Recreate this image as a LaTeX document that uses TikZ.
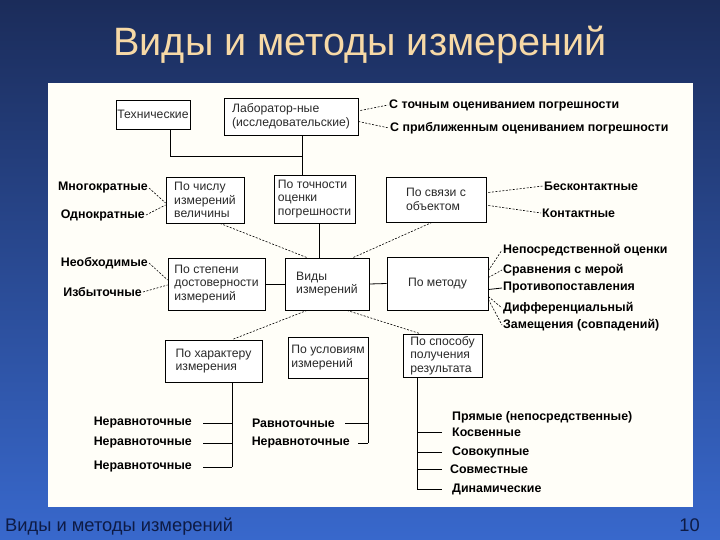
\documentclass[tikz,border=0pt]{standalone}
\usepackage{fontspec}
\setmainfont{Liberation Sans}
\usetikzlibrary{calc}
\definecolor{bgtop}{HTML}{1B2C5A}
\definecolor{bgbot}{HTML}{3868CC}
\definecolor{titlecol}{HTML}{F7D9A6}
\definecolor{footcol}{HTML}{0E1B45}
\definecolor{panel}{HTML}{FFFEF8}
\definecolor{boxtext}{HTML}{2A2A2A}
\begin{document}
\begin{tikzpicture}[x=1pt,y=-1pt,
 box/.style={draw=black, line width=0.8pt, fill=white, align=left, inner sep=0pt, font=\fontsize{12.2}{13.5}\selectfont, text=boxtext},
 lbl/.style={font=\bfseries\fontsize{12.4}{14}\selectfont, inner sep=1pt, text=black},
 dline/.style={line width=0.6pt, dash pattern=on 2pt off 1.5pt},
 sline/.style={line width=0.8pt}]
\useasboundingbox (0,0) rectangle (720,540);
\shade[top color=bgtop, bottom color=bgbot] (0,0) rectangle (720,540);
\fill[panel] (48,83) rectangle (693,507);
% title and footer
\node[anchor=base, text=titlecol, font=\fontsize{39.6}{48}\selectfont, inner sep=0pt] (title) at (360,56) {Виды и методы измерений};
\node[anchor=base west, text=footcol, font=\fontsize{18.3}{20}\selectfont, inner sep=0pt] (foot) at (5,531) {Виды и методы измерений};
\node[anchor=base east, text=footcol, font=\fontsize{18.3}{20}\selectfont, inner sep=0pt] (page) at (700,531) {10};
% boxes
\node[box, minimum width=74, minimum height=29] (tech) at (153,114.5) {Технические};
\node[box, minimum width=134, minimum height=37] (lab) at (291,116.5) {Лаборатор-ные\\(исследовательские)};
\node[box, minimum width=78, minimum height=46] (count) at (205,200) {По числу\\измерений\\величины};
\node[box, minimum width=81, minimum height=48] (acc) at (314.5,199) {По точности\\оценки\\погрешности};
\node[box, minimum width=100, minimum height=45] (obj) at (436,199.5) {По связи с\\объектом};
\node[box, minimum width=97, minimum height=52] (rel) at (216.5,284) {По степени\\достоверности\\измерений};
\node[box, minimum width=84, minimum height=52] (main) at (327,284) {Виды\\измерений};
\node[box, minimum width=101, minimum height=53] (meth) at (437.5,283.5) {По методу};
\node[box, minimum width=97, minimum height=42] (char) at (213.5,361) {По характеру\\измерения};
\node[box, minimum width=80, minimum height=41] (cond) at (328,357.5) {По условиям\\измерений};
\node[box, minimum width=79, minimum height=43] (res) at (442.5,355.5) {По способу\\получения\\результата};
% labels
\node[lbl, anchor=west] (l1) at (388,105) {С точным оцениванием погрешности};
\node[lbl, anchor=west] (l2) at (389,128) {С приближенным оцениванием погрешности};
\node[lbl, anchor=east] (mk) at (149,188) {Многократные};
\node[lbl, anchor=east] (ok) at (146,215) {Однократные};
\node[lbl, anchor=west] (bk) at (543,186) {Бесконтактные};
\node[lbl, anchor=west] (kt) at (541,213) {Контактные};
\node[lbl, anchor=east] (nb) at (149,263) {Необходимые};
\node[lbl, anchor=east] (iz) at (143,292) {Избыточные};
\node[lbl, anchor=west] (m1) at (502,250) {Непосредственной оценки};
\node[lbl, anchor=west] (m2) at (502,270) {Сравнения с мерой};
\node[lbl, anchor=west] (m3) at (502,288) {Противопоставления};
\node[lbl, anchor=west] (m4) at (502,308) {Дифференциальный};
\node[lbl, anchor=west] (m5) at (502,325) {Замещения (совпадений)};
\node[lbl, anchor=east] (c1) at (193,423) {Неравноточные};
\node[lbl, anchor=east] (c2) at (193,443) {Неравноточные};
\node[lbl, anchor=east] (c3) at (193,467) {Неравноточные};
\node[lbl, anchor=east] (u1) at (336,423) {Равноточные};
\node[lbl, anchor=east] (u2) at (351,443) {Неравноточные};
\node[lbl, anchor=west] (r1) at (451,417) {Прямые (непосредственные)};
\node[lbl, anchor=west] (r2) at (451,432) {Косвенные};
\node[lbl, anchor=west] (r3) at (451,452) {Совокупные};
\node[lbl, anchor=west] (r4) at (449,469) {Совместные};
\node[lbl, anchor=west] (r5) at (451,489) {Динамические};
% connectors
\coordinate (tj) at (170,156);
\coordinate (lj) at (302,156);
\draw[sline] (tj |- tech.south) -- (tj) -- (lj);
\draw[sline] (lj |- lab.south) -- (lj |- acc.north);
\draw[dline] ($(lab.east)+(2,-6)$) -- (l1.west);
\draw[dline] ($(lab.east)+(0,5)$) -- (l2.west);
\draw[dline] (mk.east) -- ($(count.west)+(0,3)$);
\draw[dline] (ok.east) -- ($(count.west)+(0,5)$);
\draw[dline] ($(obj.east)+(2,-7)$) -- (bk.west);
\draw[dline] ($(obj.east)+(2,6)$) -- (kt.west);
\draw[dline] (nb.east) -- ($(rel.west)+(0,-4)$);
\draw[dline] (iz.east) -- ($(rel.west)+(0,1)$);
\draw[dline] ($(count.south)+(15,0)$) -- ($(main.north)+(-20,0)$);
\coordinate (aj) at ($(acc.south)+(5,0)$);
\draw[sline] (aj) -- (aj |- main.north);
\draw[dline] ($(obj.south)+(-4,0)$) -- ($(main.north)+(26,0)$);
\draw[sline] (rel.east) -- (main.west);
\draw[sline] (main.east) -- (meth.west);
\draw[dline] ($(main.south)+(-20,0)$) -- ($(char.north)+(18.5,0)$);
\draw[dline] ($(main.south)+(20,0)$) -- ($(res.north)+(-22.5,0)$);
\draw[dline] ($(meth.east)+(0,-13)$) -- (m1.west);
\draw[dline] ($(meth.east)+(0,-6)$) -- (m2.west);
\draw[sline] ($(meth.east)+(0,6)$) -- (m3.west);
\draw[dline] ($(meth.east)+(0,13)$) -- (m4.west);
\draw[dline] ($(meth.east)+(0,16)$) -- (m5.west);
% bottom brackets
\coordinate (cv) at ($(char.south)+(18.5,0)$);
\draw[sline] (cv) -- (cv |- c3.east);
\draw[sline] ($(c1.east)+(10,0)$) -- (c1.east -| cv);
\draw[sline] ($(c2.east)+(10,0)$) -- (c2.east -| cv);
\draw[sline] ($(c3.east)+(10,0)$) -- (c3.east -| cv);
\coordinate (uv) at (cond.south east);
\draw[sline] (uv) -- (uv |- u2.east);
\draw[sline] ($(u1.east)+(9,0)$) -- (u1.east -| uv);
\draw[sline] ($(u2.east)+(7,0)$) -- (u2.east -| uv);
\coordinate (rv) at ($(res.south)+(-25.5,0)$);
\draw[sline] (rv) -- (rv |- r5.west) -- ($(r5.west)+(-9,0)$);
\draw[sline] ($(r2.west)+(-9,0)$) -- (r2.west -| rv);
\draw[sline] ($(r3.west)+(-9,0)$) -- (r3.west -| rv);
\draw[sline] ($(r4.west)+(-7,0)$) -- (r4.west -| rv);
\end{tikzpicture}
\end{document}
